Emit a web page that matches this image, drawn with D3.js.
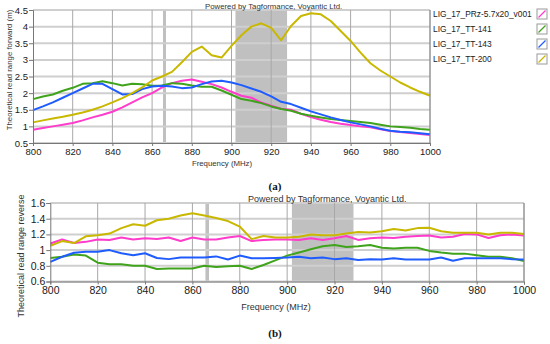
<!DOCTYPE html>
<html><head><meta charset="utf-8">
<script src="https://cdn.jsdelivr.net/npm/d3@7"></script>
<style>body{margin:0;background:#fff} svg{display:block}</style>
</head><body><svg id="c" width="550" height="344"></svg>
<script>
// ---------- data ----------
const freqs = d3.range(800, 1001, 5);
const seriesNames = ["LIG_17_PRz-5.7x20_v001", "LIG_17_TT-141", "LIG_17_TT-143", "LIG_17_TT-200"];
const seriesColors = ["#ff3ccb", "#3fa31c", "#1f5cff", "#c9b800"];

// (a) forward read range (m)
const fwdPRz = [0.9,0.95,1.0,1.05,1.1,1.18,1.27,1.35,1.44,1.57,1.72,1.87,2.0,2.17,2.3,2.37,2.41,2.34,2.27,2.17,2.04,1.92,1.86,1.72,1.62,1.53,1.5,1.38,1.28,1.2,1.13,1.08,1.04,1.0,0.97,0.91,0.86,0.83,0.8,0.77,0.74];
const fwdTT141 = [1.82,1.9,1.96,2.07,2.16,2.28,2.3,2.36,2.3,2.23,2.28,2.27,2.22,2.23,2.3,2.28,2.23,2.19,2.19,2.08,1.95,1.82,1.77,1.7,1.6,1.52,1.47,1.38,1.32,1.27,1.22,1.19,1.16,1.13,1.1,1.05,1.0,0.98,0.96,0.92,0.9];
const fwdTT143 = [1.49,1.6,1.72,1.86,2.0,2.14,2.28,2.28,2.12,1.96,1.97,2.12,2.2,2.22,2.2,2.15,2.17,2.27,2.35,2.37,2.32,2.24,2.14,2.04,1.9,1.74,1.67,1.56,1.45,1.36,1.27,1.19,1.12,1.06,1.0,0.93,0.87,0.84,0.82,0.79,0.76];
const fwdTT200 = [1.12,1.18,1.24,1.29,1.35,1.42,1.5,1.6,1.72,1.85,2.0,2.17,2.38,2.5,2.64,2.93,3.24,3.4,3.14,3.07,3.42,3.74,4.0,4.1,3.96,3.59,4.02,4.32,4.4,4.37,4.17,3.87,3.57,3.22,2.9,2.68,2.5,2.32,2.17,2.04,1.92];

// (b) reverse read range
const revPRz = [1.085,1.135,1.09,1.105,1.135,1.13,1.16,1.135,1.15,1.14,1.16,1.115,1.16,1.135,1.135,1.16,1.18,1.115,1.13,1.135,1.135,1.13,1.15,1.13,1.15,1.18,1.13,1.15,1.16,1.155,1.17,1.18,1.185,1.16,1.17,1.205,1.2,1.155,1.19,1.2,1.185];
const revTT141 = [0.9,0.915,0.945,0.93,0.84,0.82,0.82,0.8,0.8,0.76,0.765,0.765,0.765,0.8,0.785,0.795,0.8,0.76,0.81,0.87,0.93,0.97,1.01,1.05,1.065,1.04,1.05,1.065,1.03,1.02,1.03,1.03,0.99,0.97,0.955,0.955,0.935,0.915,0.915,0.895,0.86];
const revTT143 = [0.85,0.915,0.966,0.98,0.98,1.0,0.96,0.935,0.96,0.9,0.885,0.905,0.905,0.905,0.92,0.88,0.93,0.895,0.895,0.9,0.905,0.915,0.895,0.905,0.885,0.895,0.875,0.885,0.88,0.895,0.88,0.88,0.88,0.905,0.865,0.895,0.895,0.895,0.895,0.885,0.88];
const revTT200 = [1.055,1.115,1.09,1.175,1.19,1.21,1.28,1.33,1.31,1.38,1.4,1.44,1.47,1.44,1.41,1.37,1.3,1.14,1.18,1.16,1.16,1.17,1.2,1.19,1.19,1.21,1.23,1.225,1.24,1.27,1.25,1.28,1.285,1.24,1.22,1.22,1.22,1.2,1.22,1.22,1.205];

const xTicks = [800,820,840,860,880,900,920,940,960,980,1000];
const fwdYTicks = [0.5,1,1.5,2,2.5,3,3.5,4,4.5];
const revYTicks = [0.6,0.8,1,1.2,1.4,1.6];
const bands = [[865.5,867],[902,928]];
const creditText = "Powered by Tagformance, Voyantic Ltd.";
const xTitle = "Frequency (MHz)";

// ---------- drawing ----------
const svg = d3.select("#c");
const FONT = "'Liberation Sans', Arial, sans-serif";

function drawChart(cfg, series) {
  const g = svg.append("g");
  const x = d3.scaleLinear().domain([800, 1000]).range([cfg.left, cfg.right]);
  const y = d3.scaleLinear().domain(cfg.yDomain).range([cfg.bottom, cfg.top]);

  g.selectAll("rect.band").data(bands).enter().append("rect")
    .attr("x", d => x(d[0])).attr("width", d => x(d[1]) - x(d[0]))
    .attr("y", cfg.top).attr("height", cfg.bottom - cfg.top)
    .attr("fill", "#c0c0c0");

  g.selectAll("line.hg").data(cfg.yTicks).enter().append("line")
    .attr("x1", cfg.left).attr("x2", cfg.right)
    .attr("y1", d => y(d)).attr("y2", d => y(d))
    .attr("stroke", "#cfcfcf").attr("stroke-width", 2);
  g.selectAll("line.vg").data(xTicks.slice(1)).enter().append("line")
    .attr("x1", d => x(d)).attr("x2", d => x(d))
    .attr("y1", cfg.top).attr("y2", cfg.bottom)
    .attr("stroke", "#a8a8a8").attr("stroke-width", 1);

  const line = d3.line().x((d, i) => x(freqs[i])).y(d => y(d));
  g.selectAll("path.s").data(series).enter().append("path")
    .attr("d", d => line(d)).attr("fill", "none")
    .attr("stroke", (d, i) => seriesColors[i]).attr("stroke-width", 2)
    .attr("stroke-linejoin", "round");

  const xAxis = d3.axisBottom(x).tickValues(xTicks).tickSize(3).tickPadding(2).tickFormat(d3.format("d"));
  const gx = g.append("g").attr("transform", `translate(0,${cfg.bottom})`).call(xAxis);
  gx.select(".domain").attr("stroke", "#777");
  gx.selectAll(".tick line").attr("stroke", "#777");
  gx.selectAll("text").attr("font-family", FONT).attr("font-size", cfg.tickFont).attr("fill", "#1a1a1a");

  const yAxis = d3.axisLeft(y).tickValues(cfg.yTicks).tickSize(4).tickPadding(1).tickFormat(d3.format("~g"));
  const gy = g.append("g").attr("transform", `translate(${cfg.left},0)`).call(yAxis);
  gy.select(".domain").attr("stroke", "#777");
  gy.selectAll(".tick line").attr("stroke", "#777");
  gy.selectAll("text").attr("font-family", FONT).attr("font-size", cfg.tickFont).attr("fill", "#1a1a1a");

  g.append("line").attr("x1", cfg.right).attr("x2", cfg.right).attr("y1", cfg.top).attr("y2", cfg.bottom)
    .attr("stroke", "#8a8a8a").attr("stroke-width", 1);

  g.append("text").attr("x", cfg.creditX).attr("y", cfg.creditY)
    .attr("font-family", FONT).attr("font-size", cfg.titleFont).attr("fill", "#333").text(creditText);
  g.append("text").attr("x", cfg.xTitleX).attr("y", cfg.xTitleY).attr("text-anchor", "middle")
    .attr("font-family", FONT).attr("font-size", cfg.titleFont).attr("fill", "#333").text(xTitle);
  g.append("text").attr("transform", `translate(${cfg.yTitleX},${cfg.yTitleY}) rotate(-90)`)
    .attr("text-anchor", "middle")
    .attr("font-family", FONT).attr("font-size", cfg.titleFont).attr("fill", "#333").text(cfg.yTitle);
  svg.append("text").attr("x", 275).attr("y", cfg.captionY).attr("text-anchor", "middle")
    .attr("font-family", "'Liberation Serif', serif").attr("font-weight", "bold").attr("font-size", 11)
    .attr("fill", "#111").text(cfg.caption);
}

drawChart({
  left: 33, right: 430, top: 10, bottom: 143, yDomain: [0.5, 4.5], yTicks: fwdYTicks,
  tickFont: 9.5, titleFont: 7.8, creditX: 205, creditY: 8.5,
  xTitleX: 222, xTitleY: 165.5, yTitleX: 12, yTitleY: 70,
  yTitle: "Theoretical read range forward (m)", caption: "(a)", captionY: 190
}, [fwdPRz, fwdTT141, fwdTT143, fwdTT200]);

drawChart({
  left: 50.3, right: 524, top: 203, bottom: 281.5, yDomain: [0.6, 1.6], yTicks: revYTicks,
  tickFont: 10.5, titleFont: 9, creditX: 248, creditY: 201.5,
  xTitleX: 276, xTitleY: 310, yTitleX: 23.5, yTitleY: 256,
  yTitle: "Theoretical read range reverse", caption: "(b)", captionY: 337
}, [revPRz, revTT141, revTT143, revTT200]);

const leg = svg.append("g").selectAll("g").data(seriesNames).enter().append("g")
  .attr("transform", (d, i) => `translate(0,${14 + i * 15})`);
leg.append("text").attr("x", 433).attr("y", 3).attr("font-family", FONT).attr("font-size", 8.4)
  .attr("fill", "#222").text(d => d);
leg.append("rect").attr("x", 537).attr("y", -5).attr("width", 10).attr("height", 10)
  .attr("fill", "#fff").attr("stroke", "#9a9a9a").attr("stroke-width", 1);
leg.append("line").attr("x1", 538.5).attr("y1", 3.5).attr("x2", 545.5).attr("y2", -3.5)
  .attr("stroke", (d, i) => seriesColors[i]).attr("stroke-width", 1.3);
</script>
</body></html>
